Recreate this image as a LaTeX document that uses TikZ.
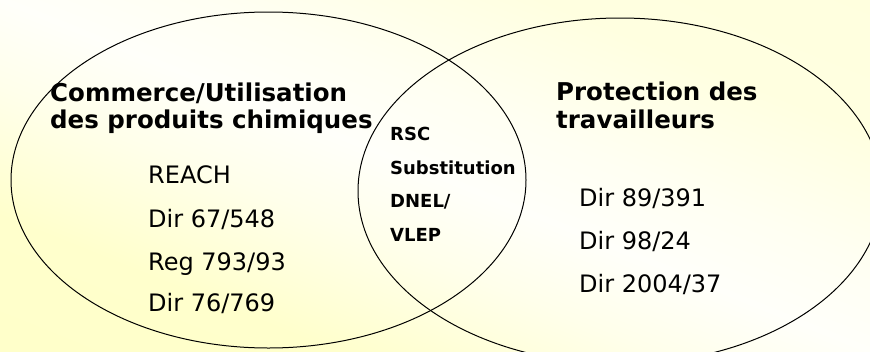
\documentclass[tikz,border=0pt]{standalone}
\usepackage{fontspec}
\setmainfont{DejaVu Sans}
\usepackage{xcolor}
\pgfdeclareverticalshading{fond}{100bp}{
  rgb(0bp)=(1,1,0.78); rgb(30bp)=(1,1,0.80); rgb(42bp)=(1,1,0.92);
  rgb(50bp)=(1,1,0.98); rgb(58bp)=(1,1,0.95); rgb(70bp)=(1,1,0.88); rgb(100bp)=(1,1,0.86)}

\begin{document}
\begin{tikzpicture}[x=1pt, y=-1pt,
  titre/.style = {anchor=base west, inner sep=0pt, font=\fontsize{24.5}{27}\selectfont\bfseries},
  texte/.style = {anchor=base west, inner sep=0pt, font=\fontsize{24}{27}\selectfont},
  milieu/.style = {anchor=base west, inner sep=0pt, font=\fontsize{18}{20}\selectfont\bfseries},
  ensemble/.style = {draw, line width=1pt}]
  \useasboundingbox (0,0) rectangle (870,351);
  \shade[shading=fond, shading angle=-22] (0,0) rectangle (870,351);

  \coordinate (commerce) at (268.5,180);
  \coordinate (travail) at (620,191);
  \draw[ensemble] (commerce) ellipse [x radius=257.5pt, y radius=168pt];
  \draw[ensemble] (travail) ellipse [x radius=262pt, y radius=173pt];

  \node[titre] (c1) at (50,101.7) {Commerce/Utilisation};
  \node[titre] (c2) at (50,128.3) {des produits chimiques};
  \node[titre] (p1) at (556,100) {Protection des};
  \node[titre] (p2) at (556,128.3) {travailleurs};

  \node[texte] (1) at (148,183.5) {REACH};
  \node[texte] (2) at (148,227) {Dir 67/548};
  \node[texte] (3) at (148,270) {Reg 793/93};
  \node[texte] (4) at (148,311) {Dir 76/769};

  \node[milieu] (5) at (390,140) {RSC};
  \node[milieu] (6) at (390,174) {Substitution};
  \node[milieu] (7) at (390,207) {DNEL/};
  \node[milieu] (8) at (390,241.5) {VLEP};

  \node[texte] (9) at (579,206.5) {Dir 89/391};
  \node[texte] (10) at (579,249) {Dir 98/24};
  \node[texte] (11) at (579,292) {Dir 2004/37};
\end{tikzpicture}
\end{document}
